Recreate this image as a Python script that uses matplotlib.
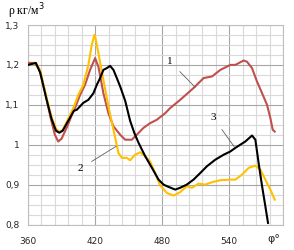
import numpy as np
import matplotlib.pyplot as plt
from matplotlib.ticker import MultipleLocator, FixedLocator

# curve 1 (red)
x1 = [360, 366, 370, 375, 380, 384, 387, 390, 395, 400, 402, 406.6, 411, 415.5, 420, 423,
      427.4, 431.9, 436.4, 442.4, 446.9, 452.8, 457.3, 463.2, 469.2, 475.2, 482.7, 487.2,
      496.1, 508, 517, 524.5, 532, 540.9, 545.4, 552.8, 555.8, 560.3, 564.8, 569.3, 573.7,
      576.7, 578.8, 580.6]
y1 = [1.205, 1.205, 1.19, 1.135, 1.07, 1.025, 1.008, 1.015, 1.045, 1.08, 1.092, 1.125, 1.15,
      1.1875, 1.217, 1.195, 1.129, 1.079, 1.046, 1.025, 1.0125, 1.0125, 1.025, 1.042, 1.054,
      1.0625, 1.079, 1.092, 1.1125, 1.142, 1.167, 1.171, 1.1875, 1.2, 1.2, 1.211, 1.208,
      1.192, 1.158, 1.129, 1.1, 1.067, 1.0375, 1.033]

# curve 2 (yellow)
x2 = [360, 367, 371, 376, 381, 385, 388, 391, 396, 401, 405, 409.5, 414, 417, 419.4, 420,
      423, 427.4, 431.9, 436.4, 440.9, 444, 448.4, 451.3, 455.8, 460.3, 464.8, 469.2, 473.7,
      478.2, 484.2, 490.2, 496, 502, 506.6, 512.5, 518.5, 524.5, 532, 540.9, 545.4, 551.4,
      557.3, 563.3, 567.8, 572.2, 576.7, 580.6]
y2 = [1.20, 1.205, 1.185, 1.125, 1.07, 1.04, 1.032, 1.037, 1.065, 1.095, 1.125, 1.15, 1.2,
      1.25, 1.275, 1.272, 1.229, 1.1625, 1.096, 1.0375, 0.979, 0.967, 0.967, 0.961, 0.975,
      0.981, 0.971, 0.958, 0.929, 0.898, 0.879, 0.8725, 0.881, 0.896, 0.892, 0.9025, 0.90,
      0.906, 0.911, 0.9125, 0.9125, 0.925, 0.942, 0.9475, 0.9375, 0.9125, 0.8875, 0.8625]

# curve 3 (black)
x3 = [360, 367, 371, 376, 381, 385, 388, 391, 396, 401, 403.6, 409.5, 414, 418.5, 421.5,
      424.5, 427.4, 430.5, 433.4, 436.4, 439.4, 442.4, 446.9, 451.3, 455, 458.8, 464.8,
      470.8, 476.7, 481.2, 484.2, 491.6, 496, 502, 508, 514, 520, 527.5, 535, 540.9, 545.4,
      554.3, 560.3, 563.3, 566.2, 569.3, 572.2, 574.6]
y3 = [1.20, 1.205, 1.18, 1.12, 1.065, 1.035, 1.03, 1.035, 1.06, 1.085, 1.0875, 1.105,
      1.1125, 1.129, 1.15, 1.167, 1.1875, 1.192, 1.1975, 1.1875, 1.167, 1.146, 1.11, 1.06,
      1.03, 1.005, 0.971, 0.942, 0.9125, 0.90, 0.896, 0.8875, 0.892, 0.90, 0.9125, 0.929,
      0.946, 0.9625, 0.975, 0.983, 0.992, 1.008, 1.023, 1.0125, 0.954, 0.896, 0.846, 0.804]

x_ticks = [360, 420, 480, 540]
y_ticks = [0.8, 0.9, 1.0, 1.1, 1.2, 1.3]
y_labels = ['0,8', '0,9', '1', '1,1', '1,2', '1,3']

fig = plt.figure(figsize=(2.94, 2.5), dpi=100)
ax = fig.add_axes([28 / 294, 1 - 224.5 / 250, 255 / 294, 199.5 / 250])

ax.plot(x1, y1, color='#C0504D', lw=1.5, zorder=3)
ax.plot(x2, y2, color='#FFC000', lw=1.5, zorder=3)
ax.plot(x3, y3, color='black', lw=1.5, zorder=4)

ax.set_xlim(360, 588)
ax.set_ylim(0.8, 1.3)
ax.xaxis.set_major_locator(FixedLocator(x_ticks))
ax.xaxis.set_minor_locator(MultipleLocator(12))
ax.yaxis.set_major_locator(FixedLocator(y_ticks))
ax.yaxis.set_minor_locator(MultipleLocator(0.025))
ax.set_xticklabels([str(v) for v in x_ticks])
ax.set_yticklabels(y_labels)
ax.tick_params(which='both', length=0, labelsize=6.5, colors='#262626')
ax.tick_params(axis='x', pad=9)
ax.tick_params(axis='y', pad=6)
ax.grid(which='minor', color='#d9d9d9', lw=0.8)
ax.grid(which='major', color='#a6a6a6', lw=0.8)
ax.set_axisbelow(True)
for s in ax.spines.values():
    s.set_color('#bfbfbf')
    s.set_linewidth(0.8)

serif = 'Liberation Serif'
ax.annotate('1', xy=(509.5, 1.144), xytext=(487.2, 1.2075), fontsize=8, family=serif,
            ha='center', va='center',
            arrowprops=dict(arrowstyle='-', color='#606060', lw=0.6, shrinkA=4, shrinkB=0))
ax.annotate('2', xy=(438.8, 0.996), xytext=(406.6, 0.94), fontsize=8, family=serif,
            ha='center', va='center',
            arrowprops=dict(arrowstyle='-', color='#606060', lw=0.6, shrinkA=5, shrinkB=0))
ax.annotate('3', xy=(544.4, 0.995), xytext=(525.7, 1.0675), fontsize=8, family=serif,
            ha='center', va='center',
            arrowprops=dict(arrowstyle='-', color='#606060', lw=0.6, shrinkA=4, shrinkB=0))

fig.text(8 / 294, 1 - 11 / 250, 'ρ кг/м$^3$', fontsize=8.5, family=serif, va='center')
fig.text(274 / 294, 1 - 239 / 250, 'φ°', fontsize=8, family='DejaVu Sans',
         ha='center', va='center', color='#262626')

fig.savefig('out.png', dpi=100)
